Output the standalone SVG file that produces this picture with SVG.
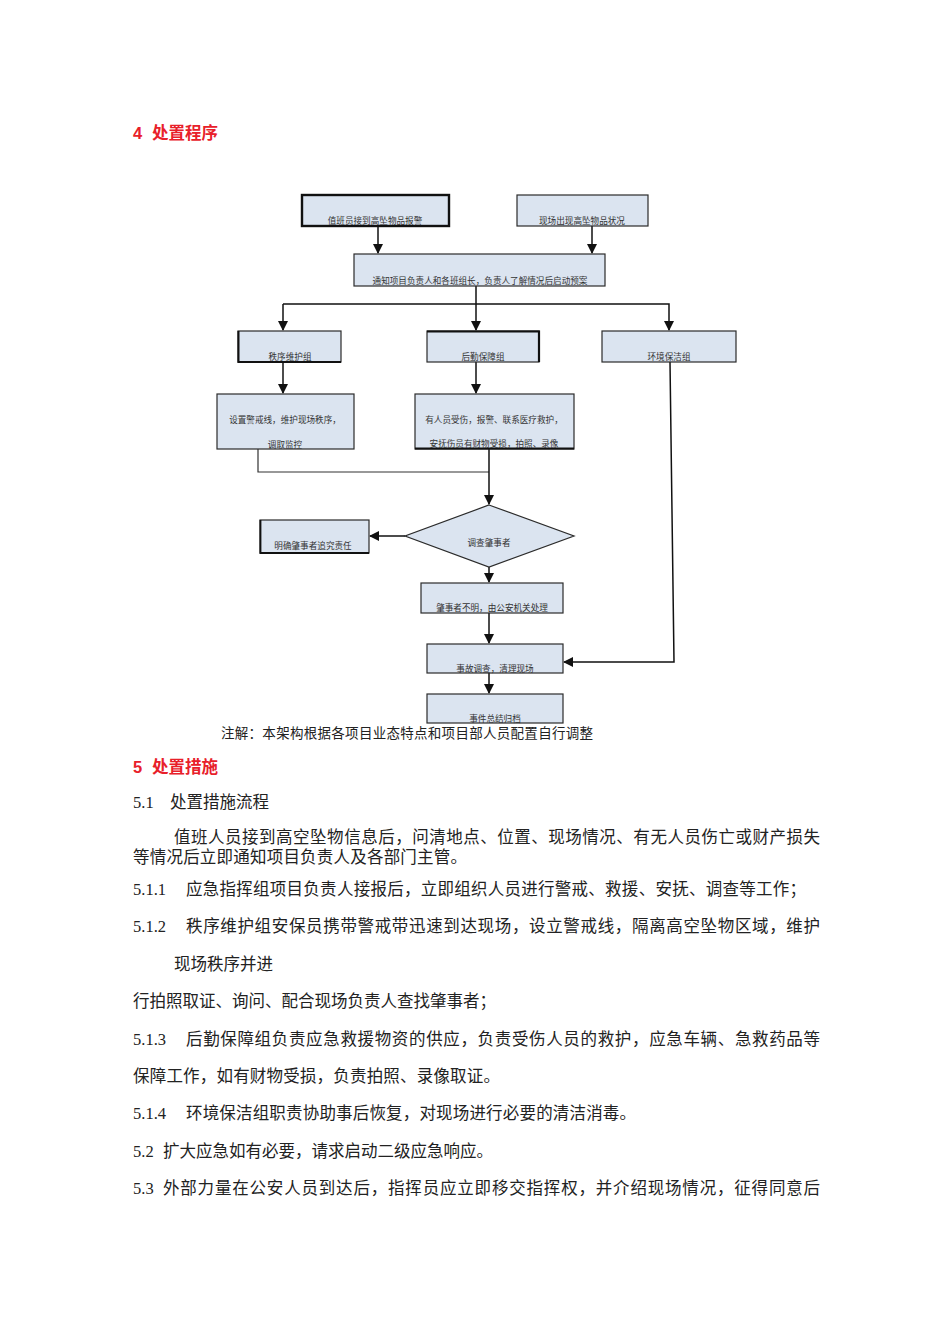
<svg xmlns="http://www.w3.org/2000/svg" width="950" height="1344" viewBox="0 0 950 1344">
<style>
.bg{fill:#ffffff}
.box{fill:#dbe4f0;stroke:#2b2b2b;stroke-width:1.2}
.thick{stroke-width:2.4;stroke:#111}
.ft{font-family:"Liberation Serif","Noto Sans CJK SC",serif;font-size:8.6px;fill:#333;text-anchor:middle}
.ln{fill:none;stroke:#111;stroke-width:1.5}
.ln2{fill:none;stroke:#333;stroke-width:1.2}
.hd{font-family:"Liberation Sans","Noto Sans CJK SC",sans-serif;font-size:16.5px;font-weight:bold;fill:#e8202a}
.body{font-family:"Liberation Serif","Noto Sans CJK SC",serif;font-size:16.5px;fill:#222}
.note{font-family:"Liberation Serif","Noto Sans CJK SC",serif;font-size:13.5px;fill:#222}
</style>
<defs>
<marker id="ah" markerWidth="10" markerHeight="10" refX="9" refY="5" orient="auto" markerUnits="userSpaceOnUse">
<path d="M0,0 L10,5 L0,10 Z" fill="#111"/>
</marker>
</defs>
<rect class="bg" x="0" y="0" width="950" height="1344"/>

<text class="hd" x="133" y="139">4<tspan x="152">处置程序</tspan></text>

<g id="connectors">
<line class="ln" x1="378" y1="226" x2="378" y2="253" marker-end="url(#ah)"/>
<line class="ln" x1="592" y1="226" x2="592" y2="253" marker-end="url(#ah)"/>
<polyline class="ln" points="476,286 476,304"/>
<polyline class="ln" points="283,304 669,304 669,330" marker-end="url(#ah)"/>
<line class="ln" x1="283" y1="304" x2="283" y2="330" marker-end="url(#ah)"/>
<line class="ln" x1="476" y1="304" x2="476" y2="330" marker-end="url(#ah)"/>
<line class="ln" x1="283" y1="362" x2="283" y2="393" marker-end="url(#ah)"/>
<line class="ln" x1="476" y1="362" x2="476" y2="393" marker-end="url(#ah)"/>
<polyline class="ln2" points="258,449 258,472 489,472"/>
<line class="ln" x1="489" y1="449" x2="489" y2="504" marker-end="url(#ah)"/>
<line class="ln" x1="405" y1="536" x2="370" y2="536" marker-end="url(#ah)"/>
<line class="ln" x1="489" y1="567" x2="489" y2="582" marker-end="url(#ah)"/>
<line class="ln" x1="489" y1="613" x2="489" y2="643" marker-end="url(#ah)"/>
<polyline class="ln" points="670,362 674,662 564,662" marker-end="url(#ah)"/>
<line class="ln" x1="489" y1="673" x2="489" y2="693" marker-end="url(#ah)"/>
</g>

<g id="n1"><rect class="box thick" x="302" y="195" width="147" height="31"/><text class="ft" x="375" y="224">值班员接到高坠物品报警</text></g>
<g id="n2"><rect class="box" x="517" y="195" width="131" height="31"/><text class="ft" x="582" y="224">现场出现高坠物品状况</text></g>
<g id="n3"><rect class="box" x="354" y="254" width="251" height="32"/><text class="ft" x="480" y="284">通知项目负责人和各班组长，负责人了解情况后启动预案</text></g>
<g id="n4"><rect class="box" x="238" y="331" width="103" height="31"/><path d="M238.5,331 V362 H341" class="ln" style="stroke-width:2"/><text class="ft" x="290" y="360">秩序维护组</text></g>
<g id="n5"><rect class="box" x="427" y="331" width="112" height="31"/><path d="M427,331.5 H539 V362" class="ln" style="stroke-width:2.2"/><text class="ft" x="483" y="360">后勤保障组</text></g>
<g id="n6"><rect class="box" x="602" y="331" width="134" height="31"/><text class="ft" x="669" y="360">环境保洁组</text></g>
<g id="n7"><rect class="box" x="217" y="394" width="137" height="55"/><text class="ft" x="285" y="423">设置警戒线，维护现场秩序，</text><text class="ft" x="285" y="448">调取监控</text></g>
<g id="n8"><rect class="box" x="415" y="394" width="159" height="55"/><path d="M415,448.5 H574" class="ln" style="stroke-width:2"/><text class="ft" x="494" y="423">有人员受伤，报警、联系医疗救护，</text><text class="ft" x="494" y="447">安抚伤员有财物受损，拍照、录像</text></g>
<g id="n9"><polygon class="box" points="489,505 574,536 489,567 405,536"/><text class="ft" x="489" y="546">调查肇事者</text></g>
<g id="n10"><rect class="box" x="260" y="520" width="109" height="33"/><path d="M260.5,520 V553 H369" class="ln" style="stroke-width:1.8"/><text class="ft" x="313" y="549">明确肇事者追究责任</text></g>
<g id="n11"><rect class="box" x="421" y="583" width="142" height="30"/><text class="ft" x="492" y="611">肇事者不明，由公安机关处理</text></g>
<g id="n12"><rect class="box" x="427" y="644" width="136" height="29"/><text class="ft" x="495" y="672">事故调查，清理现场</text></g>
<g id="n13"><rect class="box" x="427" y="694" width="136" height="29"/><text class="ft" x="495" y="722">事件总结归档</text></g>

<text class="note" x="221" y="738" textLength="372" lengthAdjust="spacing">注解：本架构根据各项目业态特点和项目部人员配置自行调整</text>

<text class="hd" x="133" y="773">5<tspan x="152">处置措施</tspan></text>
<text class="body" x="133" y="808">5.1<tspan x="170">处置措施流程</tspan></text>
<text class="body" x="174" y="843" textLength="646" lengthAdjust="spacing">值班人员接到高空坠物信息后，问清地点、位置、现场情况、有无人员伤亡或财产损失</text>
<text class="body" x="133" y="863" textLength="334" lengthAdjust="spacing">等情况后立即通知项目负责人及各部门主管。</text>
<text class="body" x="133" y="895">5.1.1<tspan x="186" textLength="620" lengthAdjust="spacing">应急指挥组项目负责人接报后，立即组织人员进行警戒、救援、安抚、调查等工作；</tspan></text>
<text class="body" x="133" y="932">5.1.2<tspan x="186" textLength="634" lengthAdjust="spacing">秩序维护组安保员携带警戒带迅速到达现场，设立警戒线，隔离高空坠物区域，维护</tspan></text>
<text class="body" x="174" y="970">现场秩序并进</text>
<text class="body" x="133" y="1007">行拍照取证、询问、配合现场负责人查找肇事者；</text>
<text class="body" x="133" y="1045">5.1.3<tspan x="186" textLength="634" lengthAdjust="spacing">后勤保障组负责应急救援物资的供应，负责受伤人员的救护，应急车辆、急救药品等</tspan></text>
<text class="body" x="133" y="1082" textLength="367" lengthAdjust="spacing">保障工作，如有财物受损，负责拍照、录像取证。</text>
<text class="body" x="133" y="1119">5.1.4<tspan x="186" textLength="450" lengthAdjust="spacing">环境保洁组职责协助事后恢复，对现场进行必要的清洁消毒。</tspan></text>
<text class="body" x="133" y="1157">5.2<tspan x="163">扩大应急如有必要，请求启动二级应急响应。</tspan></text>
<text class="body" x="133" y="1194">5.3<tspan x="163" textLength="657" lengthAdjust="spacing">外部力量在公安人员到达后，指挥员应立即移交指挥权，并介绍现场情况，征得同意后</tspan></text>
</svg>
